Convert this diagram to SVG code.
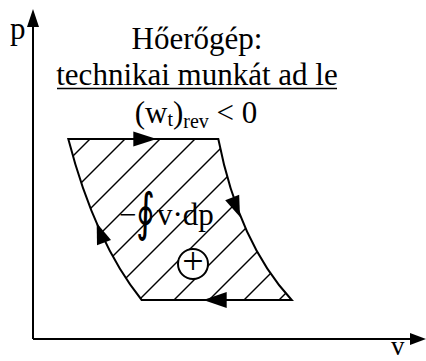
<svg xmlns="http://www.w3.org/2000/svg" width="426" height="361" viewBox="0 0 426 361">
<style>
.ln{fill:none;stroke:#000;stroke-width:2}
.ht{fill:none;stroke:#000;stroke-width:1.4}
.ah{fill:#000;stroke:none}
.t{font-family:"Liberation Serif","Times New Roman",serif;fill:#000}
</style>
<defs>
<clipPath id="cyc">
<path d="M68.3,139 L218.3,139 Q238.8,243 291.7,300 L141.7,300 Q95,242 68.3,139 Z"/>
</clipPath>
</defs>
<rect width="426" height="361" fill="#fff"/>
<g id="axes">
<line class="ln" x1="33" y1="339" x2="33" y2="24"/>
<polygon class="ah" points="33,9 27,27 39,27"/>
<line class="ln" x1="33" y1="339" x2="412" y2="339"/>
<polygon class="ah" points="426,339 410,333 410,345"/>
<text class="t" x="10" y="39" font-size="31">p</text>
<text class="t" x="391" y="355" font-size="27">v</text>
</g>
<g id="cycle">
<g clip-path="url(#cyc)">
<line class="ht" x1="-81" y1="310" x2="129" y2="100"/>
<line class="ht" x1="-46" y1="310" x2="164" y2="100"/>
<line class="ht" x1="-11" y1="310" x2="199" y2="100"/>
<line class="ht" x1="24" y1="310" x2="234" y2="100"/>
<line class="ht" x1="59" y1="310" x2="269" y2="100"/>
<line class="ht" x1="94" y1="310" x2="304" y2="100"/>
<line class="ht" x1="129" y1="310" x2="339" y2="100"/>
<line class="ht" x1="164" y1="310" x2="374" y2="100"/>
<line class="ht" x1="199" y1="310" x2="409" y2="100"/>
<line class="ht" x1="234" y1="310" x2="444" y2="100"/>
<line class="ht" x1="269" y1="310" x2="479" y2="100"/>
</g>
<path class="ln" d="M68.3,139 L218.3,139 Q238.8,243 291.7,300 L141.7,300 Q95,242 68.3,139 Z"/>
<polygon class="ah" points="156.7,139 133.3,131.5 133.3,146.5"/>
<polygon class="ah" points="240,217 239.2,194.7 225.2,200.3"/>
<polygon class="ah" points="203.3,300 226.7,292 226.7,308"/>
<polygon class="ah" points="96.7,223 111,240.1 97,245.3"/>
<circle cx="193" cy="264" r="15" fill="#fff" stroke="#000" stroke-width="2"/>
<text class="t" x="193" y="273.5" font-size="38" text-anchor="middle">+</text>
</g>
<g id="labels">
<text class="t" x="197" y="49" font-size="31" text-anchor="middle">Hőerőgép:</text>
<text class="t" x="197" y="85" font-size="31" text-anchor="middle">technikai munkát ad le</text>
<line x1="57" y1="88.5" x2="337" y2="88.5" stroke="#000" stroke-width="1.6"/>
<text class="t" x="196" y="123" font-size="31" text-anchor="middle">(w<tspan font-size="20" dy="3">t</tspan><tspan dy="-3">)</tspan><tspan font-size="20" dy="5">rev</tspan><tspan dy="-5"> &lt; 0</tspan></text>
<text class="t" x="119" y="225" font-size="31">−</text>
<text transform="translate(136,230) scale(0.7,1)" font-size="52" font-family="DejaVu Serif, serif">∮</text>
<text class="t" x="157" y="225" font-size="31">v·dp</text>
</g>
</svg>
